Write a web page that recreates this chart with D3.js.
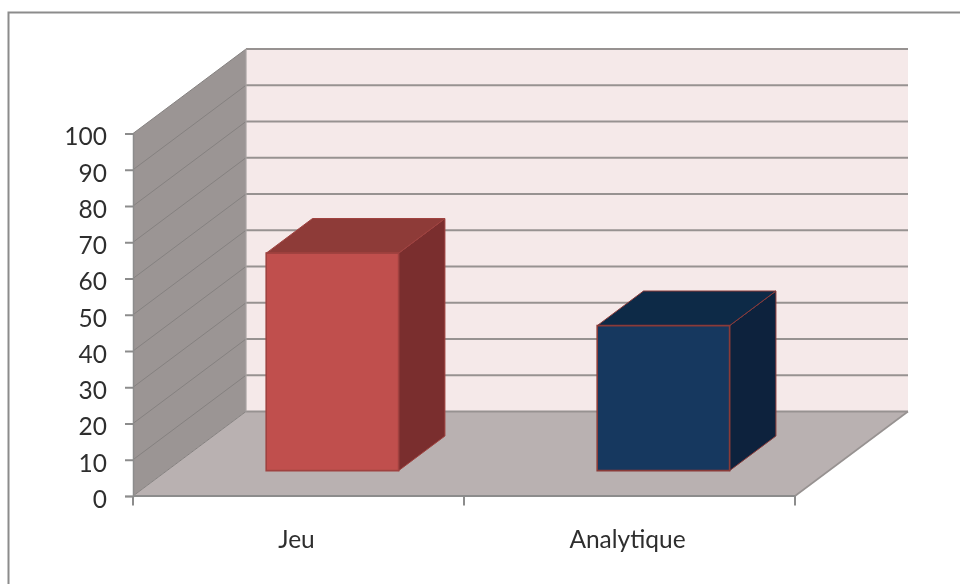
<!DOCTYPE html>
<html><head><meta charset="utf-8">
<script src="https://cdn.jsdelivr.net/npm/d3@7"></script>
<style>html,body{margin:0;padding:0;background:#fff}svg{display:block}text{font-family:Lato,"Open Sans",sans-serif;fill:#2f2f2f}</style>
</head><body><svg id="c" width="960" height="584"></svg>
<script>
const categories = ["Jeu", "Analytique"];
const values = [60, 40];
const yTicks = [0, 10, 20, 30, 40, 50, 60, 70, 80, 90, 100];
const faceColors = ["#c0504d", "#17375e"];
const topColors = ["#8e3a38", "#112947"];
const sideColors = ["#7a2f2d", "#0f243e"];
const strokeColors = ["#a04340", "#8a3a38"];

const svg = d3.select("#c");
const x = d3.scaleBand().domain(categories).range([133, 795]).paddingInner(0.6).paddingOuter(0.3);
const y = d3.scaleLinear().domain([0, 100]).range([496, 133.5]);
const dx = d3.scaleLinear().domain([0, 1]).range([0, 113]);
const dy = d3.scaleLinear().domain([0, 1]).range([0, -84.5]);
const X0 = x.range()[0], X1 = x.range()[1];
const poly = pts => "M" + pts.map(p => p.join(",")).join("L") + "Z";
const soft = svg.append("defs").append("filter").attr("id", "soft");
soft.append("feGaussianBlur").attr("stdDeviation", 0.5);
const g = svg.append("g").attr("filter", "url(#soft)");

// frame
g.append("path").attr("d", "M960,12.5H8.5V584").attr("fill", "none").attr("stroke", "#8c8c8c").attr("stroke-width", 2);

// walls and floor
g.append("path").attr("d", poly([[X0 + dx(1), y(100) + dy(1)], [X1 + dx(1), y(100) + dy(1)], [X1 + dx(1), y(0) + dy(1)], [X0 + dx(1), y(0) + dy(1)]])).attr("fill", "#f5e9e9");
g.append("path").attr("d", poly([[X0, y(100)], [X0 + dx(1), y(100) + dy(1)], [X0 + dx(1), y(0) + dy(1)], [X0, y(0)]])).attr("fill", "#9b9594");
g.append("path").attr("d", poly([[X0, y(0)], [X0 + dx(1), y(0) + dy(1)], [X1 + dx(1), y(0) + dy(1)], [X1, y(0)]])).attr("fill", "#b9b1b1");

// gridlines
g.selectAll(".back").data(yTicks).join("line").attr("class", "back")
  .attr("x1", X0 + dx(1)).attr("x2", X1 + dx(1)).attr("y1", d => y(d) + dy(1)).attr("y2", d => y(d) + dy(1))
  .attr("stroke", "#979291").attr("stroke-width", 1.8);
g.selectAll(".side").data(yTicks).join("line").attr("class", "side")
  .attr("x1", X0).attr("x2", X0 + dx(1)).attr("y1", d => y(d)).attr("y2", d => y(d) + dy(1))
  .attr("stroke", "#858180").attr("stroke-width", 1);
g.append("line").attr("x1", X0 + dx(1)).attr("x2", X0 + dx(1)).attr("y1", y(100) + dy(1)).attr("y2", y(0) + dy(1)).attr("stroke", "#a9a4a3").attr("stroke-width", 1.2);
g.append("line").attr("x1", X1).attr("x2", X1 + dx(1)).attr("y1", y(0)).attr("y2", y(0) + dy(1)).attr("stroke", "#979291").attr("stroke-width", 1.6);

// axes
const yAxis = d3.axisLeft(y).tickValues(yTicks).tickSize(8).tickPadding(18);
const ya = g.append("g").attr("transform", `translate(${X0},0)`).call(yAxis);
ya.select(".domain").attr("stroke", "#8c8c8c").attr("stroke-width", 1.5);
ya.selectAll("line").attr("stroke", "#8c8c8c").attr("stroke-width", 2);
ya.selectAll("text").attr("font-size", 24.5).attr("dy", "0.46em").style("font-family", "Lato").style("fill", "#2f2f2f");

const xa = g.append("g");
xa.append("line").attr("x1", X0).attr("x2", X1).attr("y1", y(0)).attr("y2", y(0)).attr("stroke", "#8c8c8c").attr("stroke-width", 2);
const step = x.step();
xa.selectAll(".t").data([0, 1, 2]).join("line").attr("class", "t")
  .attr("x1", d => X0 + d * step).attr("x2", d => X0 + d * step).attr("y1", y(0)).attr("y2", y(0) + 9.5)
  .attr("stroke", "#8c8c8c").attr("stroke-width", 2);
xa.selectAll("text").data(categories).join("text")
  .attr("x", d => x(d) + x.bandwidth() / 2 - 2).attr("y", y(0) + 51.5)
  .attr("text-anchor", "middle").attr("font-size", 24.5).text(d => d);

// 3D bars
const near = 0.3, far = 0.71;
const bars = g.selectAll(".bar").data(categories).join("g").attr("class", "bar");
const corners = (c, i) => {
  const l = x(c), r = l + x.bandwidth(), t = y(values[i]), b = y(0);
  return { fl: l + dx(near), fr: r + dx(near), ft: t + dy(near), fb: b + dy(near),
           bl: l + dx(far), br: r + dx(far), bt: t + dy(far), bb: b + dy(far) };
};
bars.append("path").attr("d", (c, i) => { const q = corners(c, i);
    return poly([[q.fr, q.ft], [q.br, q.bt], [q.br, q.bb], [q.fr, q.fb]]); })
  .attr("fill", (c, i) => sideColors[i]).attr("stroke", (c, i) => strokeColors[i]).attr("stroke-width", 1);
bars.append("path").attr("d", (c, i) => { const q = corners(c, i);
    return poly([[q.fl, q.ft], [q.bl, q.bt], [q.br, q.bt], [q.fr, q.ft]]); })
  .attr("fill", (c, i) => topColors[i]).attr("stroke", (c, i) => strokeColors[i]).attr("stroke-width", 1);
bars.append("path").attr("d", (c, i) => { const q = corners(c, i);
    return poly([[q.fl, q.ft], [q.fr, q.ft], [q.fr, q.fb], [q.fl, q.fb]]); })
  .attr("fill", (c, i) => faceColors[i]).attr("stroke", (c, i) => strokeColors[i]).attr("stroke-width", 1.6);
</script></body></html>
